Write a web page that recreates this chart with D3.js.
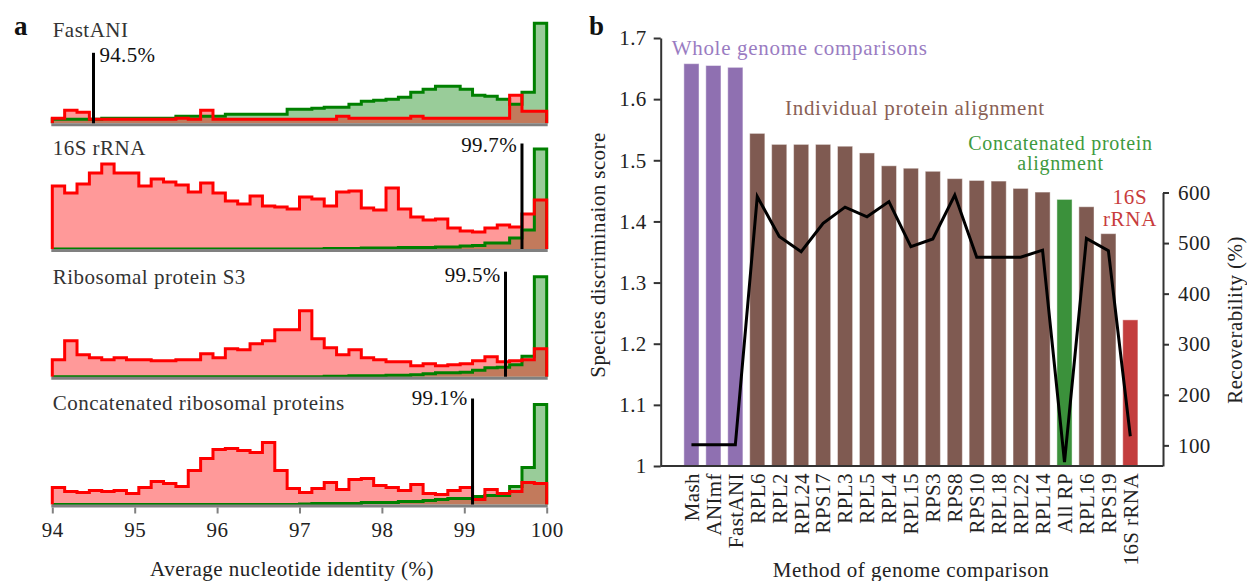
<!DOCTYPE html>
<html>
<head>
<meta charset="utf-8">
<script src="https://cdn.jsdelivr.net/npm/d3@7"></script>
<style>
  body { margin: 0; background: #fff; }
  svg text { font-family: "Liberation Serif", "Times New Roman", serif; }
</style>
</head>
<body>
<svg id="fig" width="1247" height="581"></svg>
<script>
// ---------- panel a: ANI distributions (40 bins of 0.15 % from 94 to 100) ----------
const binStart = 94, binWidth = 0.15, binCount = 40;
const aniTicks = [94, 95, 96, 97, 98, 99, 100];
const panelTitles = ["FastANI", "16S rRNA", "Ribosomal protein S3", "Concatenated ribosomal proteins"];
const thresholds = [94.5, 99.7, 99.5, 99.1];

// relative frequency (% of the tallest bin) — pairs of different species
const fastaniDiff = [5,13,11,4,4,4,4,4,4,4,5,4,13,4,4,4,4,4,4,4,4,4,4,7,5,5,5,5,5,7,5,5,5,5,5,5,5,28,12,12];
const rrnaDiff    = [63,56,65,76,85,76,76,63,70,67,64,57,66,56,48,45,53,43,42,40,52,50,43,57,58,41,39,61,40,32,29,30,21,18,17,21,24,22,35,49];
const rps3Diff    = [17,36,22,19,17,19,17,17,16,16,17,17,23,19,28,27,33,36,47,47,66,38,29,22,27,19,17,15,15,11,13,11,12,13,16,20,15,16,17,28];
const concatDiff  = [17,13,12,14,13,14,11,17,23,21,18,34,46,55,56,54,52,62,34,16,12,16,22,15,25,26,19,17,14,20,11,10,14,17,5,15,11,13,22,21];

// relative frequency — pairs of the same species
const fastaniSame = [4,4,4,4,5,5,5,5,5,5,7,7,7,7,9,9,9,9,9,14,14,15,16,16,19,22,23,24,26,31,34,37,37,34,28,27,24,19,31,100];
const rrnaSame    = [0,0,0,0,0,0,0,0,0,0,0,0,0,0,0,0,0,0,0,0,0,0,0.5,0.5,0.5,1,1,1,1.5,1.5,1.5,2,2,3,3.5,6,6,11,19,100];
const rps3Same    = [0,0,0,0,0,0,0,0,0,0,0,0,0,0,0,0,0,0,0,0,0,0,0.5,0.5,1,1,1,1.5,1.5,2,3,4,4,4.5,6.5,9,9.5,12,20.5,100];
const concatSame  = [0,0,0,0,0,0,0,0,0,0,0,0,0,0,0,0,0,0,0,0,0.5,1,1,1,1,2,2,2,3,3,4,5,6,6,8,9,9,18,37,100];

// ---------- panel b: discrimination score and recoverability ----------
const methods = ["Mash","ANImf","FastANI","RPL6","RPL2","RPL24","RPS17","RPL3","RPL5","RPL4","RPL15",
                 "RPS3","RPS8","RPS10","RPL18","RPL22","RPL14","All RP","RPL16","RPS19","16S rRNA"];
const methodGroup = ["whole","whole","whole","single","single","single","single","single","single","single","single",
                     "single","single","single","single","single","single","concat","single","single","rrna"];
const scores = [1.658,1.655,1.652,1.544,1.526,1.526,1.526,1.523,1.512,1.491,1.487,
                1.482,1.470,1.467,1.466,1.454,1.448,1.436,1.424,1.380,1.239];
const recoverability = [101,101,101,592,513,483,539,571,552,582,493,
                        508,595,472,472,472,486,67,509,485,118];
const scoreTicks = [1, 1.1, 1.2, 1.3, 1.4, 1.5, 1.6, 1.7];
const recTicks = [100, 200, 300, 400, 500, 600];

// ---------- styling ----------
const FS = 21;
const textColor = "#222";
const barColor  = { whole: "#8f70b1", single: "#7f5a51", concat: "#3b913b", rrna: "#c33d3d" };
const noteColor = { whole: "#9a7cc2", single: "#8a5f55", concat: "#3e9a3e", rrna: "#c83c3c" };
const diffLine = "#ff0000", diffFill = "rgba(255,0,0,0.4)";
const sameLine = "#008000", sameFill = "rgba(0,128,0,0.4)";

const svg = d3.select("#fig");
svg.append("rect").attr("width", 1247).attr("height", 581).attr("fill", "#fff");

// ================= panel a =================
const xAni = d3.scaleLinear().domain([94, 100]).range([52.3, 546.7]);
const baselines = [123.3, 249, 376.7, 504.5];
const histHeight = 100;
const markerTop = [70.5, 105.5, 105, 106];        // marker length above baseline
const labelDy = [-61.5, -97.5, -95.2, -99.5];      // label baseline relative to subplot baseline
const diffSets = [fastaniDiff, rrnaDiff, rps3Diff, concatDiff];
const sameSets = [fastaniSame, rrnaSame, rps3Same, concatSame];
const titleBase = [37, 155, 284, 410];

function stepPoints(vals) {
  const pts = [[binStart, 0]];
  vals.forEach((v, j) => pts.push([binStart + j * binWidth, v]));
  pts.push([binStart + binCount * binWidth, vals[vals.length - 1]]);
  pts.push([binStart + binCount * binWidth, 0]);
  return pts;
}

const pa = svg.append("g");
panelTitles.forEach((title, i) => {
  const base = baselines[i];
  const y = d3.scaleLinear().domain([0, 100]).range([base, base - histHeight]);
  const g = pa.append("g");
  const area = d3.area().x(d => xAni(d[0])).y0(base).y1(d => y(d[1])).curve(d3.curveStepAfter);
  const line = d3.line().x(d => xAni(d[0])).y(d => y(d[1])).curve(d3.curveStepAfter);

  const series = [[sameSets[i], sameFill, sameLine], [diffSets[i], diffFill, diffLine]];
  // translucent fills first, outlines on top
  series.forEach(([vals, fill]) => {
    g.append("path").attr("d", area(stepPoints(vals))).attr("fill", fill);
  });
  series.forEach(([vals, , stroke]) => {
    g.append("path").attr("d", line(stepPoints(vals))).attr("fill", "none")
      .attr("stroke", stroke).attr("stroke-width", 3).attr("stroke-linejoin", "miter");
  });

  // baseline
  g.append("line").attr("x1", xAni(94) - 1).attr("x2", xAni(100) + 1)
    .attr("y1", base + 1.5).attr("y2", base + 1.5)
    .attr("stroke", "#808080").attr("stroke-width", 3);

  // threshold marker
  const tx = xAni(thresholds[i]);
  g.append("line").attr("x1", tx).attr("x2", tx)
    .attr("y1", base).attr("y2", base - markerTop[i])
    .attr("stroke", "#000").attr("stroke-width", 3);
  g.append("text")
    .attr("x", i === 0 ? tx + 6 : tx - 5)
    .attr("y", base + labelDy[i])
    .attr("text-anchor", i === 0 ? "start" : "end")
    .attr("font-size", FS).attr("fill", "#111").attr("letter-spacing", 0.3)
    .text(thresholds[i] + "%");

  g.append("text").attr("x", 52.7).attr("y", titleBase[i])
    .attr("font-size", FS).attr("fill", "#333").attr("letter-spacing", 0.5)
    .text(title);
});

// x axis of the bottom histogram
const axA = pa.append("g").attr("transform", `translate(0,${baselines[3] + 3})`)
  .call(d3.axisBottom(xAni).tickValues(aniTicks).tickFormat(d3.format("d")).tickSize(6).tickPadding(9).tickSizeOuter(0));
axA.select(".domain").remove();
axA.selectAll(".tick line").attr("stroke", "#808080").attr("stroke-width", 2);
axA.selectAll(".tick text").attr("font-size", FS).attr("fill", textColor)
  .attr("font-family", "Liberation Serif, serif").attr("letter-spacing", 0.5);

pa.append("text").attr("x", 292).attr("y", 576).attr("text-anchor", "middle")
  .attr("font-size", FS).attr("fill", textColor).attr("letter-spacing", 0.5)
  .text("Average nucleotide identity (%)");

svg.append("text").attr("x", 14).attr("y", 35).attr("font-size", 27)
  .attr("font-weight", "bold").attr("fill", "#111").text("a");
svg.append("text").attr("x", 589).attr("y", 35).attr("font-size", 27)
  .attr("font-weight", "bold").attr("fill", "#111").text("b");

// ================= panel b =================
const left = 660.7, right = 1163, bottom = 466;
const xB = d3.scaleBand().domain(methods).range([left, right])
  .paddingInner(0.31).paddingOuter(1.1).align(0.48);
const yScore = d3.scaleLinear().domain([1, 1.7]).range([bottom, 38]);
const yRec = d3.scaleLinear().domain([59.2, 600]).range([bottom, 192.5]);

const pb = svg.append("g");

pb.selectAll("rect.bar").data(methods).join("rect")
  .attr("class", "bar")
  .attr("x", d => xB(d))
  .attr("width", xB.bandwidth())
  .attr("y", (d, i) => yScore(scores[i]))
  .attr("height", (d, i) => bottom - yScore(scores[i]))
  .attr("fill", (d, i) => barColor[methodGroup[i]])
  .attr("stroke", "rgba(255,255,255,0.45)").attr("stroke-width", 1);

// recoverability line
const recLine = d3.line()
  .x((d, i) => xB(methods[i]) + xB.bandwidth() / 2)
  .y(d => yRec(d));
pb.append("path").attr("d", recLine(recoverability))
  .attr("fill", "none").attr("stroke", "#000").attr("stroke-width", 3).attr("stroke-linejoin", "miter");

function styleAxis(g) {
  g.select(".domain").attr("stroke", "#333").attr("stroke-width", 2);
  g.selectAll(".tick line").attr("stroke", "#333").attr("stroke-width", 2);
  g.selectAll(".tick text").attr("font-size", FS).attr("fill", textColor)
    .attr("font-family", "Liberation Serif, serif").attr("letter-spacing", 0.4);
}

const axL = pb.append("g").attr("transform", `translate(${left},0)`)
  .call(d3.axisLeft(yScore).tickValues(scoreTicks).tickFormat(d3.format(".1~f"))
    .tickSize(7).tickPadding(7).tickSizeOuter(0));
styleAxis(axL);

const axR = pb.append("g").attr("transform", `translate(${right},0)`)
  .call(d3.axisRight(yRec).tickValues(recTicks).tickSize(6).tickPadding(9).tickSizeOuter(0));
styleAxis(axR);

const axB = pb.append("g").attr("transform", `translate(0,${bottom})`)
  .call(d3.axisBottom(xB).tickSize(0).tickSizeOuter(0));
styleAxis(axB);
axB.select(".domain").attr("d", `M${left},0H${right}`);
axB.selectAll(".tick text")
  .attr("transform", "rotate(-90)")
  .attr("x", -7).attr("y", 0).attr("dy", "0.35em")
  .attr("text-anchor", "end");

// axis titles
pb.append("text").attr("transform", "translate(605,255) rotate(-90)")
  .attr("text-anchor", "middle").attr("font-size", FS).attr("fill", textColor).attr("letter-spacing", 0.4)
  .text("Species discriminaion score");
pb.append("text").attr("transform", "translate(1242,320) rotate(-90)")
  .attr("text-anchor", "middle").attr("font-size", FS).attr("fill", textColor).attr("letter-spacing", 0.4)
  .text("Recoverability (%)");
pb.append("text").attr("x", 911).attr("y", 577).attr("text-anchor", "middle")
  .attr("font-size", FS).attr("fill", textColor).attr("letter-spacing", 0.5)
  .text("Method of genome comparison");

// group annotations
const notes = [
  { text: "Whole genome comparisons", x: 671.7, y: 55, anchor: "start", group: "whole", size: FS },
  { text: "Individual protein alignment", x: 785, y: 115, anchor: "start", group: "single", size: FS },
  { text: "Concatenated protein", x: 1060.5, y: 150, anchor: "middle", group: "concat", size: 20 },
  { text: "alignment", x: 1060.5, y: 170, anchor: "middle", group: "concat", size: 20 },
  { text: "16S", x: 1130, y: 203.5, anchor: "middle", group: "rrna", size: FS },
  { text: "rRNA", x: 1130, y: 226, anchor: "middle", group: "rrna", size: FS }
];
pb.selectAll("text.note").data(notes).join("text")
  .attr("class", "note")
  .attr("x", d => d.x).attr("y", d => d.y)
  .attr("text-anchor", d => d.anchor)
  .attr("font-size", d => d.size).attr("letter-spacing", 0.7)
  .attr("fill", d => noteColor[d.group])
  .text(d => d.text);
</script>
</body>
</html>
